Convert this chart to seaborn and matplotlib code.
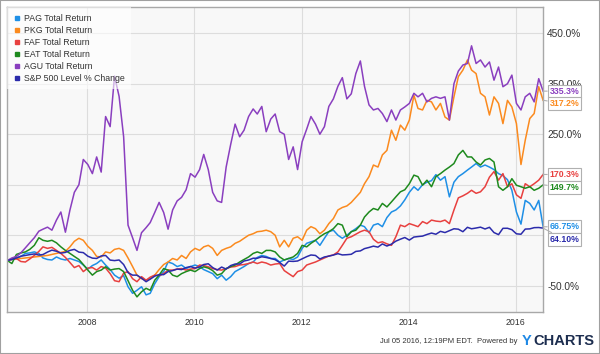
import matplotlib
matplotlib.use("Agg")
import matplotlib.pyplot as plt
import matplotlib.dates as mdates
from matplotlib import transforms
from matplotlib.lines import Line2D
from matplotlib.patches import Rectangle
from matplotlib.ticker import FuncFormatter, FixedLocator
import numpy as np
import pandas as pd
import seaborn as sns

# monthly samples, Jul 2006 .. Jul 2016 (121 points), % return
dates = pd.date_range("2006-07-05", periods=121, freq=pd.DateOffset(months=1))

names = ["PAG Total Return", "PKG Total Return", "FAF Total Return",
         "EAT Total Return", "AGU Total Return", "S&P 500 Level % Change"]
colors = ["#1e8fe6", "#fb8a1e", "#e8403f", "#1e8a1e", "#8a3fbf", "#2b2bab"]

pag = [0, 2, 4, 8, 14, 15, 17, 14, 5, 2, 1, 7, 3, 1, 4, 1, -2, -9, -17, -10, -6, 1, -9, -18,
       -29, -35, -30, -52, -65, -59, -52, -68, -65, -46, -32, -22, -3, -6, -12, -9, -16, -12,
       -9, -12, -18, -22, -26, -36, -29, -39, -32, -22, -17, -12, -6, -3, 6, 10, 8, 4,
       4, -3, 1, 4, 2, 7, 24, 34, 37, 40, 30, 44, 57, 60, 50, 44, 50, 57, 63, 70,
       67, 55, 70, 73, 67, 85, 96, 100, 108, 120, 135, 146, 139, 150, 155, 158, 170, 159, 166, 126,
       155, 166, 172, 179, 185, 192, 185, 189, 185, 180, 172, 168, 160, 139, 96, 72, 119, 113, 100, 119,
       66.75]
pkg = [0, 2, 3, 4, 5, 6, 7, 8, 9, 10, 12, 14, 16, 18, 27, 38, 44, 40, 28, 20, 8, 7, 17, 15,
       22, 24, 20, 5, -12, -29, -36, -39, -36, -29, -18, -8, -3, 4, 1, 10, 4, 17,
       24, 20, 27, 30, 24, 10, 20, 24, 27, 34, 38, 44, 50, 53, 57, 58, 60, 57,
       50, 27, 40, 27, 44, 47, 40, 60, 67, 63, 53, 60, 73, 83, 100, 105, 108, 115, 125, 135,
       152, 166, 189, 185, 209, 218, 258, 238, 268, 258, 278, 327, 301, 298, 317, 314, 298, 311, 284, 278,
       324, 364, 377, 397, 377, 370, 331, 324, 288, 324, 311, 271, 317, 304, 271, 190, 238, 281, 291, 344,
       317.2]
faf = [0, 3, 4, -2, -3, 3, 10, 18, 27, 24, 26, 20, 14, 6, -4, -14, -10, -22, -15, -14, -19, -12, -15, -26,
       -40, -42, -25, -22, -36, -42, -32, -39, -33, -29, -30, -26, -19, -19, -17, -16, -19, -17,
       -16, -9, -10, -12.5, -16, -18, -19, -16, -13, -12, -9, -8, -6, -3, -6, -3, -5, -9,
       -7, -6, -20, -26, -32, -22, -19, -9, -6, -3, 1, 5, 9, 11, 17, 30, 44, 47, 52, 57,
       60, 57, 42, 35, 37, 33, 30, 47, 70, 67, 73, 70, 67, 77, 73, 80, 78, 77, 80, 73,
       100, 124, 128, 133, 139, 133, 136, 146, 165, 176, 159, 172, 146, 152, 130, 123, 152, 146, 152, 159,
       170.3]
eat = [0, -6, 12, 15, 17, 22, 30, 45, 40, 38, 40, 35, 27, 20, 14, 8, 2, -8, -19, -29, -22, -19, -12.5, -19,
       -17, -16, -22, -40, -59, -72, -62, -55, -59, -39, -29, -16, -19, -29, -32, -26, -22, -19,
       -22, -16, -12.5, -15, -20, -29, -26, -16, -12, -9, -3, 2, 7, 14, 17, 14, 20, 20,
       17, 7, 1, 4, 7, 14, 30, 27, 34, 40, 47, 53, 57, 63, 73, 70, 47, 57, 60, 70,
       86, 96, 103, 100, 113, 106, 116, 126, 136, 140, 152, 169, 166, 149, 159, 146, 166, 172, 179, 185,
       192, 209, 218, 205, 205, 195, 189, 199, 202, 195, 146, 139, 146, 162, 149, 146, 143, 146, 139, 143,
       149.7]
agu = [0, 5, 8, 15, 25, 35, 45, 58, 62, 66, 60, 80, 96, 56, 100, 135, 150, 200, 190, 172, 205, 175, 285, 265,
       365, 325, 245, 70, 45, 20, 55, 65, 75, 95, 115, 95, 62, 100, 118, 125, 140, 172,
       165, 180, 210, 180, 135, 118, 115, 185, 230, 270, 245, 258, 285, 300, 290, 305, 255, 280,
       290, 255, 250, 200, 225, 180, 235, 260, 285, 270, 250, 265, 305, 320, 345, 362, 320, 330, 370, 395,
       345, 308, 298, 301, 291, 275, 298, 278, 298, 304, 311, 331, 324, 331, 314, 321, 324, 321, 324, 278,
       350, 375, 387, 390, 425, 390, 397, 383, 393, 357, 383, 344, 350, 367, 311, 298, 324, 331, 314, 360,
       335.3]
spx = [0, 2, 5, 8.5, 10, 11.6, 13, 10.7, 11.8, 16.7, 20.5, 18.3, 14.6, 16, 20, 22, 16.6, 15.6,
       8.5, 4.7, 4, 9, 10, 0.8, -0.2, 1, -8, -24, -29, -29, -35, -42, -37, -31, -28, -28,
       -22, -20, -17, -18, -14, -12, -15, -13, -8, -6.5, -14, -19, -13, -17, -10, -7, -7, -1,
       1, 4.5, 4.4, 7.4, 6, 4, 1.7, -4, -11, -1.3, -1.8, -1, 3.3, 7.6, 10.9, 10, 3, 7,
       8.6, 10.8, 13.5, 11, 11.5, 12.3, 18, 19, 23.5, 25.8, 28.4, 26.5, 32.8, 28.6, 32.4, 38.3,
       42.2, 45.5, 40.4, 46.4, 47.4, 48.3, 51.5, 54.3, 52, 57.7, 55.3, 59, 62.8, 62, 57, 65.7,
       62.8, 64.3, 66, 62.4, 65.7, 55.3, 51.2, 63.7, 63.8, 61, 52.8, 52, 62.2, 62.6, 65, 65.3,
       64.1]

series = [pag, pkg, faf, eat, agu, spx]
df = pd.concat([pd.DataFrame({"date": dates, "value": vals, "series": n})
                for n, vals in zip(names, series)], ignore_index=True)

plt.rcParams['font.family'] = ['Liberation Sans', 'DejaVu Sans']

fig = plt.figure(figsize=(6.0, 3.54), dpi=100)
ax = fig.add_axes([0.0122, 0.1186, 0.893, 0.8604])
ax.set_facecolor("#f8f8f8")

palette = dict(zip(names, colors))
sns.lineplot(data=df, x="date", y="value", hue="series", hue_order=names,
             palette=palette, estimator=None, sort=False, linewidth=1.1,
             legend=False, ax=ax)

ax.set_xlim(dates[0], dates[-1])
ax.set_ylim(-102, 501)
ax.set_xlabel(""); ax.set_ylabel("")

# 50% and 150% labels sit under the value boxes in the original, so leave them blank
ax.yaxis.tick_right()
ax.yaxis.set_major_locator(FixedLocator([-50, 50, 150, 250, 350, 450]))
ax.yaxis.set_major_formatter(FuncFormatter(lambda v, _: "" if v in (50, 150) else f"{v:.1f}%"))
ax.xaxis.set_major_locator(mdates.YearLocator(2))
ax.xaxis.set_major_formatter(mdates.DateFormatter("%Y"))
ax.tick_params(axis="y", length=0, pad=3, labelsize=7.3, labelcolor="#333333")
ax.tick_params(axis="x", length=0, pad=4, labelsize=6.3, labelcolor="#333333")
ax.grid(True, color="#dddddd", linewidth=0.8)
ax.set_axisbelow(True)
for sp in ax.spines.values():
    sp.set_color("#a8a8a8"); sp.set_linewidth(1.0)

handles = [Line2D([], [], marker="s", linestyle="", color=c, markersize=3.3) for c in colors]
leg = ax.legend(handles, names, loc="upper left", bbox_to_anchor=(0, 1), borderaxespad=0,
                fontsize=6.3, frameon=True, fancybox=False, borderpad=0.75,
                handlelength=0.7, handletextpad=0.41, labelspacing=0.34)
leg.get_frame().set_facecolor("white"); leg.get_frame().set_alpha(0.6)
leg.get_frame().set_linewidth(0)
for t in leg.get_texts():
    t.set_color("#333333")

# end-value boxes on the right, pushed apart where they would overlap
def fmt(v):
    digits = len(str(int(abs(v))))
    return f"{v:.{max(4 - digits, 0)}f}%"

ends = sorted([(vals[-1], c) for vals, c in zip(series, colors)], reverse=True)
blend = transforms.blended_transform_factory(ax.transAxes, ax.transData)
prev = None
for v, c in ends:
    ty = v if prev is None else min(v, prev - 25)
    prev = ty
    ax.annotate(fmt(v), xy=(dates[-1], v), xytext=(1.012, ty), textcoords=blend,
                ha="left", va="center", fontsize=6.3, fontweight="bold", color=c,
                annotation_clip=False,
                bbox=dict(boxstyle="square,pad=0.22", fc="white", ec="#b0b0b0", lw=0.8),
                arrowprops=dict(arrowstyle="-", color="#b0b0b0", lw=0.8, shrinkA=0, shrinkB=0))

fig.text(0.863, 0.034, "Jul 05 2016, 12:19PM EDT.  Powered by", ha="right", va="center",
         fontsize=5.5, color="#333333")
fig.text(0.869, 0.036, "Y", ha="left", va="center", fontsize=10.5, fontweight="bold", color="#1e88e5")
fig.text(0.889, 0.036, "CHARTS", ha="left", va="center", fontsize=10.5, fontweight="bold", color="#1c2d4f")

fig.patches.append(Rectangle((0, 0), 1, 1, transform=fig.transFigure, fill=False,
                             edgecolor="#a0a0a0", linewidth=1.5))

fig.savefig("out.png", dpi=100, facecolor="white")
